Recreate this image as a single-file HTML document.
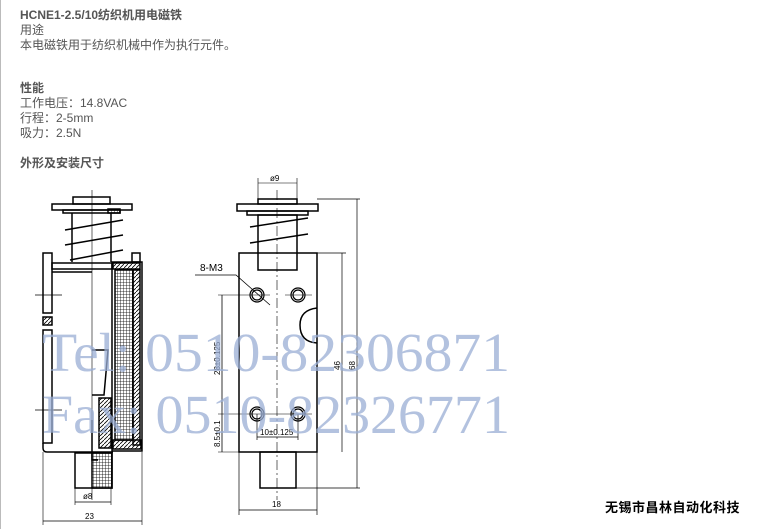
<!DOCTYPE html>
<html><head><meta charset="utf-8"><style>
html,body{margin:0;padding:0;background:#fff;}
body{width:773px;height:529px;overflow:hidden;position:relative;font-family:"Liberation Sans","Noto Sans CJK SC",sans-serif;}
.t{position:absolute;left:20px;font-size:12px;color:#555;white-space:nowrap;line-height:14px;}
.b{font-weight:bold;}
</style></head><body>
<div style="position:absolute;left:0;top:0;width:1px;height:529px;background:#bbb"></div>
<div class="t b" style="top:8px">HCNE1-2.5/10纺织机用电磁铁</div>
<div class="t" style="top:23px">用途</div>
<div class="t" style="top:38px">本电磁铁用于纺织机械中作为执行元件。</div>
<div class="t b" style="top:81px">性能</div>
<div class="t" style="top:96px">工作电压：14.8VAC</div>
<div class="t" style="top:111px">行程：2-5mm</div>
<div class="t" style="top:126px">吸力：2.5N</div>
<div class="t b" style="top:156px">外形及安装尺寸</div>
<div style="position:absolute;left:605px;top:497px;font-size:13px;font-weight:bold;color:#000;font-family:'Liberation Sans','Noto Sans CJK SC',sans-serif;letter-spacing:0.5px">无锡市昌林自动化科技</div>
<svg width="773" height="529" style="position:absolute;left:0;top:0" xmlns="http://www.w3.org/2000/svg">
<defs>
<pattern id="grid" width="3" height="3" patternUnits="userSpaceOnUse"><path d="M0 0H3M0 0V3" stroke="#000" stroke-width="0.8"/></pattern>
<pattern id="hat" width="4" height="4" patternUnits="userSpaceOnUse"><path d="M0 4L4 0" stroke="#000" stroke-width="0.8"/></pattern>
</defs>
<g fill="none" stroke="#000" stroke-width="1.5">
<line x1="92" y1="190" x2="92" y2="500" stroke-width="0.6"/>
<rect x="73" y="197" width="37" height="7"/>
<rect x="52" y="204" width="80" height="6"/>
<rect x="63" y="210" width="57" height="3"/>
<rect x="108" y="209" width="12" height="4" fill="url(#grid)"/>
<line x1="72" y1="213" x2="72" y2="262"/><line x1="111" y1="213" x2="111" y2="262"/>
<path d="M65 230L123 220M65 245L123 235M70 260L123 250"/>
<rect x="43" y="253" width="9" height="60"/>
<rect x="43" y="317" width="9" height="8" fill="url(#hat)"/>
<rect x="43" y="330" width="9" height="113"/>
<path d="M43 443V448Q43 452 47 452H113"/>
<rect x="52" y="263" width="60" height="6"/><line x1="52" y1="272" x2="92" y2="272"/>
<rect x="112" y="262" width="30" height="189"/>
<rect x="132" y="253" width="8" height="9"/>
<rect x="113" y="263" width="27" height="6" fill="url(#hat)"/>
<rect x="115" y="270" width="18" height="170" fill="url(#grid)"/>
<rect x="133" y="270" width="7" height="175" fill="url(#hat)"/>
<rect x="113" y="440" width="28" height="9" fill="url(#hat)"/>
<path d="M92 350H108L104 395H92M92 420V460H98"/>
<rect x="99" y="398" width="12" height="50" fill="url(#hat)"/>
<rect x="75" y="453" width="37" height="35"/>
<rect x="92" y="453" width="20" height="35" fill="url(#grid)"/>
<path d="M35 295H62M35 410H62" stroke-width="0.8"/>
<path d="M75 488V505M111 488V505M43 452V525M142 452V525" stroke-width="0.6"/>
<path d="M75 502H111M43 521H142" stroke-width="0.8"/>
<line x1="277" y1="190" x2="277" y2="500" stroke-width="0.6" stroke-dasharray="10 3 2 3"/>
<path d="M258 178V199M297 178V199M258 183H297" stroke-width="0.6"/>
<rect x="258" y="199" width="39" height="5"/>
<rect x="237" y="204" width="81" height="7"/>
<rect x="247" y="211" width="61" height="4"/>
<rect x="258" y="215" width="39" height="55"/>
<path d="M250 227L308 218M250 243L308 234"/>
<rect x="239" y="253" width="78" height="199"/>
<path d="M317 308Q300 310 300 325Q300 342 317 343"/>
<g stroke-width="1.2"><circle cx="257" cy="295" r="7"/><circle cx="257" cy="295" r="5"/>
<circle cx="298" cy="295" r="7"/><circle cx="298" cy="295" r="5"/>
<circle cx="257" cy="414" r="7"/><circle cx="257" cy="414" r="5"/>
<circle cx="298" cy="414" r="7"/><circle cx="298" cy="414" r="5"/></g>
<path d="M218 295H270M285 295H312M218 414H312M218 452H239" stroke-width="0.6"/>
<path d="M222 295V452" stroke-width="0.8"/>
<path d="M195 275H236L270 305" stroke-width="0.8"/>
<rect x="260" y="452" width="36" height="36"/>
<path d="M317 253H346M317 199H360M296 488H360M342 253V452M357 199V488" stroke-width="0.7"/>
<path d="M239 452V515M317 452V515M239 510H317M257 414V440M298 414V440M257 437H298" stroke-width="0.7"/>
</g>
<g font-family="Liberation Sans,sans-serif" font-size="8" fill="#000">
<text x="83" y="499">ø8</text><text x="85" y="519">23</text>
<text x="270" y="181">ø9</text><text x="272" y="507">18</text>
<text x="200" y="271" font-size="10">8-M3</text>
<text x="260" y="435">10±0.125</text>
<text transform="translate(220,375) rotate(-90)">28±0.125</text>
<text transform="translate(220,447) rotate(-90)">8.5±0.1</text>
<text transform="translate(340,370) rotate(-90)">46</text>
<text transform="translate(355,370) rotate(-90)">68</text>
</g>
<g font-family="Liberation Serif,serif" font-size="55" fill="#9aaed4" fill-opacity="0.75">
<text x="42" y="371" textLength="468" lengthAdjust="spacingAndGlyphs">Tel: 0510-82306871</text>
<text x="42" y="433" textLength="468" lengthAdjust="spacingAndGlyphs">Fax: 0510-82326771</text>
</g>
</svg>
</body></html>
